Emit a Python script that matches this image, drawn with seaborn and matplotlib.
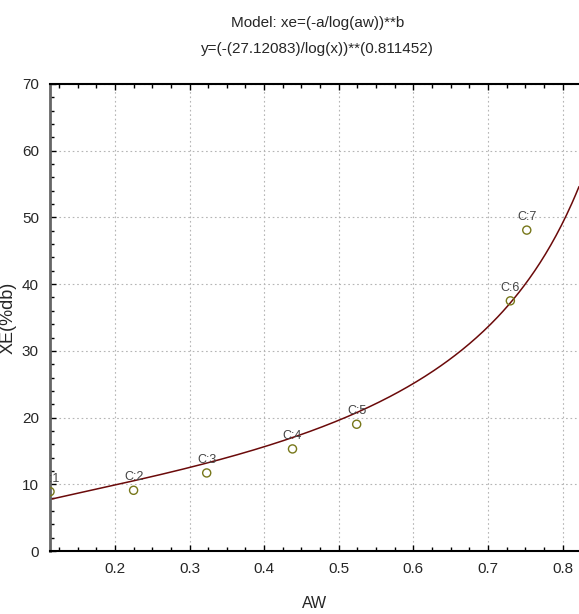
import numpy as np
import pandas as pd
import matplotlib
matplotlib.use("Agg")
import matplotlib.pyplot as plt
import matplotlib.transforms as mtransforms
import seaborn as sns
from matplotlib.ticker import MultipleLocator

# data
labels = ["C:1", "C:2", "C:3", "C:4", "C:5", "C:6", "C:7"]
aw = [0.113, 0.225, 0.323, 0.438, 0.524, 0.730, 0.752]
xe = [8.9, 9.1, 11.7, 15.3, 19.0, 37.5, 48.1]

# fitted model parameters (from the title)
a = 27.12083
b = 0.811452

sns.set_style("white")
plt.rcParams['font.family'] = ['Liberation Sans Narrow', 'Liberation Sans', 'DejaVu Sans']

df = pd.DataFrame({"AW": aw, "XE": xe, "label": labels})
xfit = np.linspace(0.113, 0.822, 300)
fit = pd.DataFrame({"AW": xfit, "XE": (-a / np.log(xfit)) ** b})

fig = plt.figure(figsize=(5.79, 6.14), dpi=100)
ax = fig.add_axes([0.0864, 0.1026, 0.9136, 0.7606])

sns.lineplot(data=fit, x="AW", y="XE", color="#6b0a0a", linewidth=1.1, ax=ax)
sns.scatterplot(data=df, x="AW", y="XE", marker="o", s=34, facecolor="none",
                edgecolor="#77771a", linewidth=1.0, ax=ax, zorder=3, clip_on=True)
# point labels just above each point, clipped to the plot area
trans = mtransforms.offset_copy(ax.transData, fig=fig, x=0, y=5, units="points")
for _, r in df.iterrows():
    ax.text(r["AW"], r["XE"], r["label"], transform=trans, ha="center", va="bottom",
            fontsize=9, color="#444444", clip_on=True)

ax.set_xlim(0.113, 0.822)
ax.set_ylim(0, 70)
ax.xaxis.set_major_locator(MultipleLocator(0.1))
ax.xaxis.set_minor_locator(MultipleLocator(0.025))
ax.yaxis.set_major_locator(MultipleLocator(10))
ax.yaxis.set_minor_locator(MultipleLocator(2))
ax.set_xticks([0.2, 0.3, 0.4, 0.5, 0.6, 0.7, 0.8])
ax.set_xticklabels(["0.2", "0.3", "0.4", "0.5", "0.6", "0.7", "0.8"])
ax.tick_params(which="both", direction="in", top=True, left=True, bottom=True, right=False,
               labelsize=11, color="black")
ax.tick_params(which="major", length=4, width=1, pad=8)
ax.tick_params(which="minor", length=3, width=1)
ax.grid(True, which="major", linestyle=(0, (1.5, 2.5)), color="#b5b5b5", linewidth=0.8)
for side in ["top", "bottom"]:
    ax.spines[side].set_color("black")
    ax.spines[side].set_linewidth(1.5)
ax.spines["left"].set_color("#666666")
ax.spines["left"].set_linewidth(2)
ax.spines["right"].set_visible(False)

ax.set_xlabel("AW", fontsize=11.5, labelpad=14)
ax.set_ylabel("XE(%db)", fontsize=13, labelpad=4)
fig.text(0.548, 0.963, "Model: xe=(-a/log(aw))**b", ha="center", va="center", fontsize=11)
fig.text(0.548, 0.921, "y=(-(27.12083)/log(x))**(0.811452)", ha="center", va="center", fontsize=11)

fig.savefig("out.png", dpi=100)
